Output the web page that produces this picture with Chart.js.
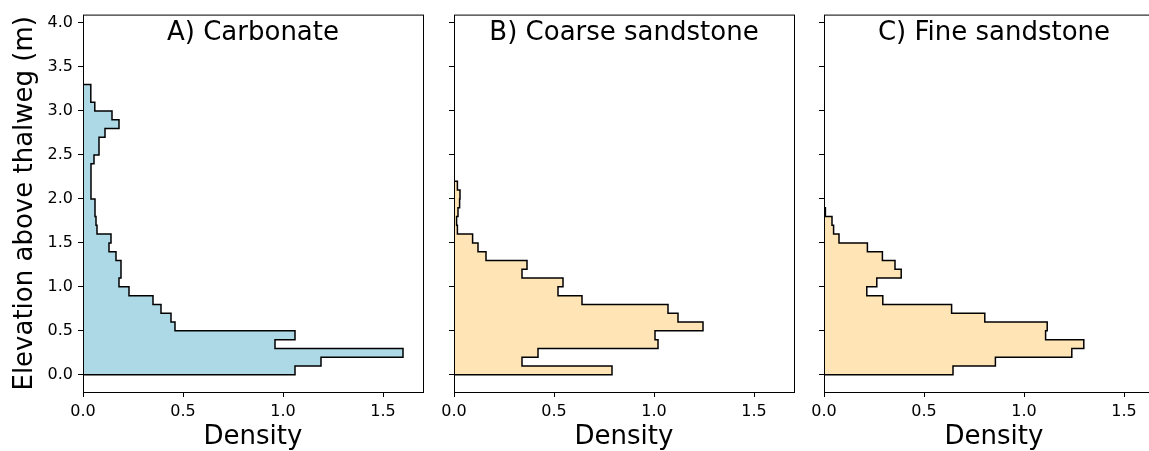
<!DOCTYPE html>
<html>
<head>
<meta charset="utf-8">
<script src="https://cdn.jsdelivr.net/npm/chart.js@4.4.1/dist/chart.umd.min.js"></script>
<style>
html, body { margin: 0; padding: 0; background: #fff; overflow: hidden; }
#wrap { position: relative; width: 1149px; height: 451px; overflow: hidden; background: #fff; }
#wrap canvas { position: absolute; top: 0; }
</style>
</head>
<body>
<div id="wrap">
  <canvas id="cA"></canvas>
  <canvas id="cB"></canvas>
  <canvas id="cC"></canvas>
</div>
<script>
// ---- data ----
const elevEdges = [0.0, 0.1, 0.2, 0.3, 0.4, 0.5, 0.6, 0.7, 0.8, 0.9,
                   1.0, 1.1, 1.2, 1.3, 1.4, 1.5, 1.6, 1.7, 1.8, 1.9,
                   2.0, 2.1, 2.2, 2.3, 2.4, 2.5, 2.6, 2.7, 2.8, 2.9,
                   3.0, 3.1, 3.2, 3.3, 3.4, 3.5, 3.6, 3.7, 3.8, 3.9];
const carbonateDensity = [1.06, 1.19, 1.60, 0.96, 1.06, 0.46, 0.44, 0.39, 0.35, 0.23,
                          0.18, 0.19, 0.19, 0.165, 0.13, 0.14, 0.07, 0.065, 0.06, 0.06,
                          0.04, 0.04, 0.04, 0.04, 0.055, 0.08, 0.08, 0.11, 0.18, 0.145,
                          0.059, 0.039, 0.039, 0, 0, 0, 0, 0, 0];
const coarseDensity = [0.79, 0.34, 0.42, 1.02, 1.005, 1.245, 1.12, 1.07, 0.64, 0.52,
                       0.545, 0.34, 0.365, 0.16, 0.12, 0.093, 0.017, 0.013, 0.02, 0.028,
                       0.03, 0.017, 0, 0, 0, 0, 0, 0, 0, 0,
                       0, 0, 0, 0, 0, 0, 0, 0, 0];
const fineDensity = [0.645, 0.857, 1.239, 1.299, 1.108, 1.116, 0.804, 0.638, 0.294, 0.214,
                     0.264, 0.386, 0.355, 0.292, 0.217, 0.075, 0.048, 0.04, 0.007, 0,
                     0, 0, 0, 0, 0, 0, 0, 0, 0, 0,
                     0, 0, 0, 0, 0, 0, 0, 0, 0];
const xTickValues = [0.0, 0.5, 1.0, 1.5];
const yTickValues = [0.0, 0.5, 1.0, 1.5, 2.0, 2.5, 3.0, 3.5, 4.0];
const panelTitles = ['A) Carbonate', 'B) Coarse sandstone', 'C) Fine sandstone'];
const xAxisTitle = 'Density';
const yAxisTitle = 'Elevation above thalweg (m)';

// ---- rendering ----
const FONT = '"DejaVu Sans", "Liberation Sans", sans-serif';

function outline(vals) {
  const pts = [{x: 0, y: elevEdges[0]}];
  vals.forEach((v, i) => {
    pts.push({x: v, y: elevEdges[i]});
    pts.push({x: v, y: elevEdges[i + 1]});
  });
  pts.push({x: 0, y: elevEdges[elevEdges.length - 1]});
  pts.push({x: 0, y: elevEdges[0]});
  return pts;
}

const framePlugin = {
  id: 'frame',
  afterDraw(chart, args, opts) {
    const {ctx, chartArea: a} = chart;
    ctx.save();
    ctx.strokeStyle = '#000';
    ctx.lineWidth = 1;
    ctx.strokeRect(a.left + 0.5, a.top + 0.5, a.right - a.left, a.bottom - a.top);
    ctx.font = '26px ' + FONT;
    ctx.fillStyle = '#000';
    ctx.textAlign = 'center';
    ctx.textBaseline = 'alphabetic';
    ctx.fillText(opts.text, (a.left + a.right) / 2, opts.y);
    ctx.restore();
  }
};

const panels = [
  {id: 'cA', left: 0,   width: 430, yw: 83, vals: carbonateDensity, color: '#ADD8E6', labels: true,  title: panelTitles[0]},
  {id: 'cB', left: 425, width: 376, yw: 29, vals: coarseDensity,    color: '#FFE4B5', labels: false, title: panelTitles[1]},
  {id: 'cC', left: 795, width: 376, yw: 29, vals: fineDensity,      color: '#FFE4B5', labels: false, title: panelTitles[2]}
];

const H = 451, TOP = 12, XH = 59, PLOTW = 340;

panels.forEach(p => {
  const cv = document.getElementById(p.id);
  cv.width = p.width; cv.height = H;
  cv.style.width = p.width + 'px'; cv.style.height = H + 'px';
  cv.style.left = p.left + 'px';
  const padR = p.width - p.yw - PLOTW;
  new Chart(cv, {
    type: 'scatter',
    data: {
      datasets: [{
        data: outline(p.vals),
        showLine: true,
        fill: 'shape',
        backgroundColor: p.color,
        borderColor: '#000',
        borderWidth: 1.5,
        borderJoinStyle: 'miter',
        pointRadius: 0,
        pointHoverRadius: 0,
        tension: 0,
        stepped: true
      }]
    },
    options: {
      responsive: false,
      animation: false,
      events: [],
      devicePixelRatio: 1,
      layout: {padding: {left: 0, right: padR, top: TOP, bottom: 0}},
      plugins: {
        legend: {display: false},
        tooltip: {enabled: false},
        frame: {text: p.title, y: 40}
      },
      scales: {
        x: {
          type: 'linear', min: 0, max: 1.7,
          afterBuildTicks: s => { s.ticks = xTickValues.map(v => ({value: v})); },
          afterFit: s => { s.height = XH; },
          border: {display: false},
          grid: {drawOnChartArea: false, drawTicks: true, tickLength: 5, tickColor: '#000', tickWidth: 1},
          ticks: {color: '#000', font: {family: FONT, size: 16}, padding: 5, maxRotation: 0, autoSkip: false,
                  callback: v => Number(v).toFixed(1)},
          title: {display: true, text: xAxisTitle, color: '#000', font: {family: FONT, size: 26, lineHeight: 1},
                  padding: {top: 0, bottom: 1}}
        },
        y: {
          type: 'linear', min: -0.195, max: 4.095,
          afterBuildTicks: s => { s.ticks = yTickValues.map(v => ({value: v})); },
          afterFit: s => { s.width = p.yw; },
          border: {display: false},
          grid: {drawOnChartArea: false, drawTicks: true, tickLength: 5, tickColor: '#000', tickWidth: 1},
          ticks: {color: '#000', font: {family: FONT, size: 16}, padding: 5, autoSkip: false,
                  callback: v => p.labels ? Number(v).toFixed(1) : ''},
          title: {display: p.labels, text: yAxisTitle, color: '#000', font: {family: FONT, size: 26, lineHeight: 1},
                  padding: {top: 12, bottom: 0}}
        }
      }
    },
    plugins: [framePlugin]
  });
});
</script>
</body>
</html>
